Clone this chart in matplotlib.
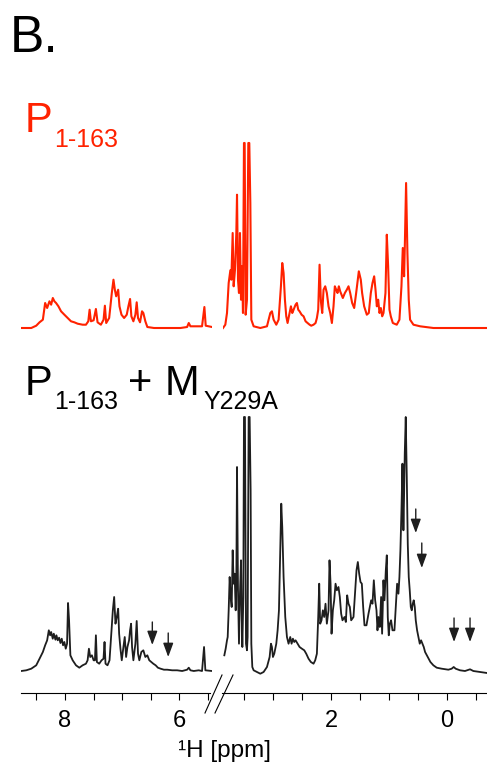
import numpy as np
import matplotlib.pyplot as plt
from matplotlib.lines import Line2D

plt.rcParams['font.family'] = ['Liberation Sans', 'DejaVu Sans']

# ---- data (ppm, intensity in arbitrary units) ----
red_left_ppm = [8.754, 8.591, 8.504, 8.446, 8.388, 8.348, 8.313, 8.273, 8.243, 8.214, 8.186, 8.157,
                8.116, 8.070, 8.012, 7.954, 7.896, 7.838, 7.780, 7.693, 7.635, 7.594, 7.571, 7.548,
                7.501, 7.461, 7.432, 7.374, 7.327, 7.304, 7.281, 7.229, 7.183, 7.154, 7.130, 7.107,
                7.072, 7.049, 7.014, 6.968, 6.922, 6.893, 6.864, 6.841, 6.806, 6.771, 6.748, 6.725,
                6.690, 6.655, 6.632, 6.597, 6.562, 6.446, 6.214, 5.983, 5.867, 5.838, 5.809, 5.693,
                5.606, 5.565, 5.542, 5.432]
red_left_int = [0, 0, 2.3, 5.7, 8.3, 25, 20, 26.7, 23.3, 30, 26.7, 25,
                21.7, 16.7, 13.3, 10, 6.7, 5.7, 4.3, 3.3, 3.3, 6.7, 18.3, 6.7,
                7.7, 19, 5.7, 3.3, 8.3, 22.3, 5, 10, 35, 48.3, 38.3, 31.7,
                38.3, 21.7, 13.3, 10, 13.3, 21.7, 29, 11.7, 6.7, 13.3, 25.7, 10,
                5.7, 16.7, 15, 6.7, 1, 0, 0, 0, 1, 5, 1.7, 1.7,
                1.7, 21, 2.3, 1]

red_right_ppm = [3.868, 3.828, 3.799, 3.770, 3.741, 3.724, 3.701, 3.684, 3.661, 3.638, 3.626, 3.609,
                 3.592, 3.575, 3.557, 3.540, 3.523, 3.506, 3.494, 3.477, 3.454, 3.431, 3.414, 3.396,
                 3.379, 3.339, 3.224, 3.109, 3.051, 3.023, 2.994, 2.948, 2.908, 2.868, 2.845, 2.822,
                 2.799, 2.776, 2.753, 2.730, 2.695, 2.672, 2.649, 2.615, 2.592, 2.569, 2.546, 2.511,
                 2.477, 2.442, 2.408, 2.373, 2.345, 2.305, 2.270, 2.247, 2.224, 2.201, 2.178, 2.155,
                 2.132, 2.103, 2.075, 2.046, 2.017, 1.988, 1.960, 1.937, 1.914, 1.891, 1.868, 1.845,
                 1.799, 1.764, 1.730, 1.701, 1.672, 1.638, 1.603, 1.569, 1.523, 1.489, 1.466, 1.431,
                 1.385, 1.351, 1.316, 1.287, 1.258, 1.235, 1.212, 1.189, 1.166, 1.143, 1.120, 1.097,
                 1.063, 1.040, 1.017, 0.994, 0.971, 0.936, 0.868, 0.822, 0.787, 0.764, 0.741, 0.729,
                 0.707, 0.684, 0.661, 0.638, 0.580, 0.465, 0.235, -0.339, -0.690]
red_right_int = [0, 3.3, 15, 45, 57.7, 48.3, 95, 41.7, 58.3, 95, 133.3, 48.3,
                 35, 95, 28.3, 61.7, 15, 185, 185, 13.3, 28.3, 185, 185, 125,
                 8.3, 1.7, 0, 1.7, 15, 16.7, 8.3, 3.3, 8.3, 41.7, 65, 55,
                 28.3, 11.7, 5, 11.7, 21.7, 15, 18.3, 23.3, 25, 18.3, 16.7, 13.3,
                 11.7, 6.7, 5, 3.3, 2.3, 3.3, 5, 10, 18.3, 63.3, 26.7, 15,
                 38.3, 41.7, 35, 21.7, 15, 5, 21.7, 41.7, 38.3, 35, 41.7, 36.7,
                 30, 35, 38.3, 41.7, 35, 25, 20, 35, 56.7, 48.3, 35, 21.7,
                 13.3, 15, 35, 45, 51.7, 38.3, 21.7, 28.3, 15, 20, 11.7, 15,
                 35, 93.3, 61.7, 18.3, 11.7, 5, 3.3, 8.3, 41.7, 80, 51.7, 81.7,
                 145, 75, 28.3, 8.3, 3.3, 1.7, 0, 0, 0]

black_left_ppm = [8.765, 8.678, 8.591, 8.504, 8.446, 8.388, 8.348, 8.313, 8.284, 8.261, 8.243, 8.215,
                  8.197, 8.168, 8.151, 8.128, 8.104, 8.081, 8.058, 8.035, 8.012, 7.988, 7.965, 7.948,
                  7.930, 7.907, 7.867, 7.809, 7.751, 7.693, 7.635, 7.606, 7.583, 7.560, 7.531, 7.501,
                  7.478, 7.461, 7.444, 7.403, 7.362, 7.328, 7.310, 7.293, 7.258, 7.223, 7.188, 7.165,
                  7.142, 7.119, 7.096, 7.072, 7.055, 7.032, 7.009, 6.980, 6.957, 6.933, 6.910, 6.881,
                  6.864, 6.846, 6.829, 6.806, 6.771, 6.748, 6.725, 6.702, 6.667, 6.632, 6.597, 6.562,
                  6.528, 6.493, 6.458, 6.417, 6.377, 6.330, 6.272, 6.214, 6.128, 6.041, 5.954, 5.867,
                  5.838, 5.809, 5.751, 5.664, 5.606, 5.571, 5.548, 5.432]
black_left_int = [1, 1.7, 3.3, 6.7, 13.3, 20, 26.7, 31.7, 41.7, 36.7, 40, 33.3,
                  38.3, 32.3, 36.7, 31.7, 34.3, 29, 33.3, 26.7, 30, 23.3, 28.3, 69,
                  51.7, 16.7, 11.7, 6.7, 4.3, 6.7, 8.3, 11.7, 23.3, 15, 16.7, 11.7,
                  11.7, 36.7, 10, 8.3, 11.7, 13.3, 30, 8.3, 6.7, 11.7, 41.7, 61.7,
                  75, 48.3, 55, 63.3, 38.3, 23.3, 11.7, 25, 35, 15, 25, 31.7,
                  41.7, 48.3, 25, 11.7, 28.3, 51, 18.3, 11.7, 20, 21.7, 15, 16.7,
                  11.7, 10, 8.3, 6.7, 4.3, 3.3, 2.3, 2.3, 1.7, 1.7, 1, 2.3,
                  4.3, 1.7, 1, 1.7, 1, 25, 1.7, 1]

black_right_ppm = [3.845, 3.822, 3.799, 3.787, 3.770, 3.753, 3.736, 3.718, 3.701, 3.684, 3.667, 3.649,
                   3.638, 3.626, 3.609, 3.592, 3.575, 3.557, 3.546, 3.534, 3.517, 3.506, 3.489, 3.471,
                   3.454, 3.443, 3.425, 3.408, 3.391, 3.379, 3.362, 3.339, 3.282, 3.224, 3.167, 3.109,
                   3.063, 3.040, 3.023, 3.006, 2.983, 2.948, 2.925, 2.902, 2.879, 2.862, 2.845, 2.822,
                   2.793, 2.764, 2.736, 2.707, 2.684, 2.661, 2.638, 2.615, 2.580, 2.546, 2.506, 2.465,
                   2.431, 2.391, 2.351, 2.305, 2.276, 2.247, 2.224, 2.207, 2.190, 2.167, 2.144, 2.121,
                   2.098, 2.075, 2.046, 2.029, 2.011, 1.994, 1.971, 1.948, 1.925, 1.902, 1.874, 1.851,
                   1.828, 1.805, 1.770, 1.747, 1.724, 1.701, 1.678, 1.655, 1.615, 1.586, 1.563, 1.540,
                   1.517, 1.494, 1.471, 1.448, 1.425, 1.391, 1.356, 1.333, 1.310, 1.287, 1.264, 1.241,
                   1.218, 1.201, 1.184, 1.161, 1.138, 1.121, 1.098, 1.080, 1.057, 1.040, 1.023, 1.006,
                   0.988, 0.966, 0.942, 0.908, 0.885, 0.862, 0.839, 0.822, 0.805, 0.787, 0.770, 0.753,
                   0.741, 0.730, 0.713, 0.695, 0.678, 0.661, 0.644, 0.626, 0.609, 0.592, 0.575, 0.557,
                   0.540, 0.517, 0.494, 0.471, 0.448, 0.425, 0.402, 0.379, 0.333, 0.287, 0.236, 0.178,
                   0.092, -0.023, -0.080, -0.115, -0.149, -0.224, -0.310, -0.397, -0.454, -0.569, -0.690]
black_right_int = [16.7, 23.3, 31.7, 35, 61.7, 95, 75, 65, 121.7, 88.3, 98.3, 61.7,
                   88.3, 205, 81.7, 28.3, 78.3, 111.7, 61.7, 25, 75, 255, 255, 28.3,
                   21.7, 35, 255, 255, 181.7, 28.3, 5, 1.7, 0, -1.7, 0, 5,
                   15, 28.3, 25, 15, 18.3, 28.3, 41.7, 61.7, 121.7, 168.3, 145, 95,
                   55, 35, 28.3, 35, 28.3, 33.3, 30, 31.7, 28.3, 25, 23.3, 21.7,
                   18.3, 13.3, 10, 8.3, 11.7, 18.3, 55, 88.3, 48.3, 51.7, 61.7, 55,
                   68.3, 48.3, 61.7, 111.7, 88.3, 38.3, 61.7, 71.7, 88.3, 81.7, 85, 75,
                   58.3, 51.7, 55, 50, 76.7, 68.3, 65, 51.7, 55, 81.7, 101.7, 110,
                   98.3, 90, 88.3, 65, 46.7, 46.7, 58.3, 65, 71.7, 68.3, 91.7, 71.7,
                   61.7, 41.7, 55, 45, 75, 38.3, 91.7, 71.7, 101.7, 116.7, 55, 36.7,
                   48.3, 51.7, 41.7, 41.7, 65, 88.3, 78.3, 95, 121.7, 161.7, 208.3, 141.7,
                   178.3, 218.3, 255, 195, 128.3, 95, 81.7, 65, 61.7, 68.3, 71.7, 65,
                   51.7, 41.7, 35, 28.3, 31.7, 28.3, 25, 20, 15, 10, 6.7, 4.3,
                   3.3, 2.3, 3.3, 5, 3.3, 1.7, 1, 2.7, 1, 0, -1]

# arrows marking signals in the complex spectrum: (ppm, tail, tip), black units
arrows_left = [(6.475, 50, 27), (6.197, 39, 15)]
arrows_right = [(0.540, 163, 139), (0.436, 129, 104), (-0.121, 54, 30), (-0.397, 54, 30)]

red_offset = 365
black_offset = 21
red = '#ff2200'
blk = '#1e1e1e'

W, H = 487, 762
fig = plt.figure(figsize=(W / 100, H / 100), dpi=100)

def px(x, y):
    return x / W, 1 - y / H

bottom = 1 - 693 / H
height = (693 - 130) / H
axL = fig.add_axes([21 / W, bottom, (212 - 21) / W, height])
axR = fig.add_axes([223 / W, bottom, (487 - 223) / W, height])

axL.plot(red_left_ppm, np.array(red_left_int) + red_offset, color=red, lw=1.5)
axR.plot(red_right_ppm, np.array(red_right_int) + red_offset, color=red, lw=1.5)
axL.plot(black_left_ppm, np.array(black_left_int) + black_offset, color=blk, lw=1.3)
axR.plot(black_right_ppm, np.array(black_right_int) + black_offset, color=blk, lw=1.3)

for ax, arrs in ((axL, arrows_left), (axR, arrows_right)):
    for xp, tail, tip in arrs:
        ax.annotate('', xy=(xp, tip + black_offset), xytext=(xp, tail + black_offset),
                    arrowprops=dict(arrowstyle='-|>,head_length=0.6,head_width=0.22',
                                    mutation_scale=14, color=blk, lw=1.0,
                                    shrinkA=0, shrinkB=0))

axL.set_xlim(8.77, 5.432)
axR.set_xlim(3.868, -0.69)
for ax in (axL, axR):
    ax.set_ylim(0, 563)
    ax.set_yticks([])
    for s in ('left', 'right', 'top'):
        ax.spines[s].set_visible(False)
    ax.spines['bottom'].set_linewidth(0.8)
    ax.patch.set_visible(False)
    ax.tick_params(axis='x', direction='out', length=5, width=0.8, pad=7,
                   labelsize=17, colors='black')

axL.spines['bottom'].set_bounds(8.77, 5.47)
axR.spines['bottom'].set_bounds(3.88, -0.69)
axL.set_xticks([8.5, 8, 7.5, 7, 6.5, 6, 5.5])
axL.set_xticklabels(['', '8', '', '', '', '6', ''])
axR.set_xticks([3.5, 3, 2.5, 2, 1.5, 1, 0.5, 0, -0.5])
axR.set_xticklabels(['', '', '', '2', '', '', '', '0', ''])

# axis-break marks
for x0, x1 in ((205, 222), (215, 233)):
    (a, b), (c, d) = px(x0, 713), px(x1, 675)
    fig.add_artist(Line2D([a, c], [b, d], color='black', lw=0.8))

fig.text(*px(224.5, 757), '¹H [ppm]', fontsize=17.5, ha='center', va='baseline')

# labels
fig.text(*px(10, 52), 'B.', fontsize=37, va='baseline')
fig.text(*px(25, 132), 'P', fontsize=30, color=red, va='baseline')
fig.text(*px(54, 147), '1-163', fontsize=18, color=red, va='baseline')
fig.text(*px(25, 395), 'P', fontsize=30, color='black', va='baseline')
fig.text(*px(54, 409), '1-163', fontsize=18, color='black', va='baseline')
fig.text(*px(140, 395), '+', fontsize=30, color='black', va='baseline', ha='center')
fig.text(*px(165, 395), 'M', fontsize=30, color='black', va='baseline')
fig.text(*px(203, 409), 'Y229A', fontsize=18, color='black', va='baseline')

fig.savefig('out.png', dpi=100)
